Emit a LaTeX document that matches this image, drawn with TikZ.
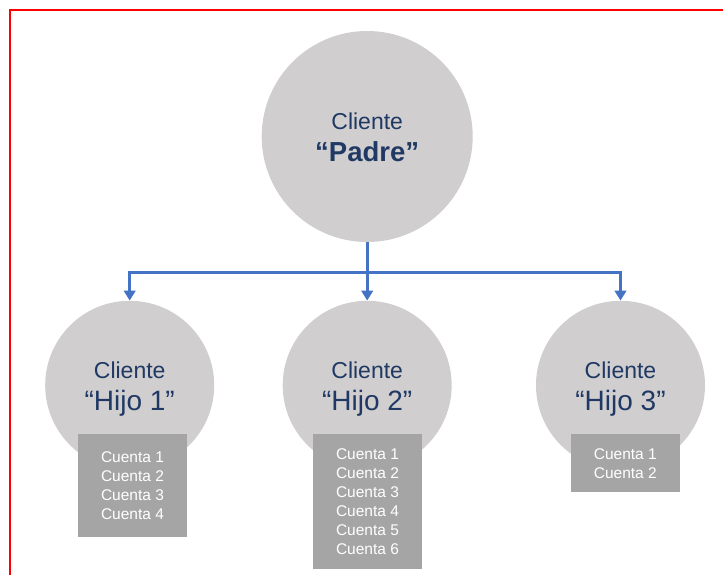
\documentclass[tikz,border=0pt]{standalone}
\usepackage{fontspec}
\setmainfont{Liberation Sans}
\usetikzlibrary{arrows.meta}
\definecolor{circfill}{HTML}{D0CECE}
\definecolor{boxfill}{HTML}{A5A5A5}
\definecolor{navy}{HTML}{1F3864}
\definecolor{connblue}{HTML}{4472C4}
\tikzset{
  parentcirc/.style={circle, fill=circfill, draw=none, minimum size=211pt, inner sep=0pt},
  childcirc/.style={circle, fill=circfill, draw=none, minimum size=169pt, inner sep=0pt},
  cliente/.style={anchor=base, inner sep=0pt, text=navy, font=\fontsize{23}{23}\selectfont},
  padrelbl/.style={anchor=base, inner sep=0pt, text=navy, font=\bfseries\fontsize{27.5}{27.5}\selectfont},
  hijolbl/.style={anchor=base, inner sep=0pt, text=navy, font=\fontsize{28}{28}\selectfont},
  cuentas/.style={rectangle, fill=boxfill, draw=none, inner sep=0pt, text=white, align=center,
    minimum width=109pt, font=\fontsize{15.5}{19}\selectfont},
  conn/.style={draw=connblue, line width=3.2pt, -{Triangle[width=11.5pt,length=10pt]}},
  bus/.style={draw=connblue, line width=3.2pt},
}
\begin{document}
\begin{tikzpicture}[x=1pt,y=-1pt]
\useasboundingbox (0,0) rectangle (723,575);
% frame
\coordinate (fbl) at (10,576);
\coordinate (ftl) at (10,10);
\coordinate (ftr) at (724,10);
\draw[red, line width=2pt] (fbl) -- (ftl) -- (ftr);
% circles
\node[parentcirc] (padre) at (367.2,136.5) {};
\node[childcirc] (hijo1) at (129.7,385.3) {};
\node[childcirc] (hijo2) at (367.2,385.3) {};
\node[childcirc] (hijo3) at (620.5,385.3) {};
% texts
\node[cliente] (tp1) at (367.2,130) {Cliente};
\node[padrelbl] (tp2) at (367.2,161.5) {“Padre”};
\node[cliente] (th1a) at (129.7,378.3) {Cliente};
\node[hijolbl] (th1b) at (129.7,410) {“Hijo 1”};
\node[cliente] (th2a) at (367.2,378.3) {Cliente};
\node[hijolbl] (th2b) at (367.2,410) {“Hijo 2”};
\node[cliente] (th3a) at (620.5,378.3) {Cliente};
\node[hijolbl] (th3b) at (620.5,410) {“Hijo 3”};
% account boxes
\node[cuentas, minimum width=108.4pt, minimum height=102.4pt] (c1) at (132.5,485.5)
  {Cuenta 1\\Cuenta 2\\Cuenta 3\\Cuenta 4};
\node[cuentas, minimum width=109.6pt, minimum height=135pt] (c2) at (367.5,501.8)
  {Cuenta 1\\Cuenta 2\\Cuenta 3\\Cuenta 4\\Cuenta 5\\Cuenta 6};
\node[cuentas, minimum width=109.3pt, minimum height=58pt] (c3) at (625.3,463.3)
  {Cuenta 1\\Cuenta 2};
% connectors
\coordinate (junc) at (367.2,272.7);
\draw[bus] (padre.south) -- (junc);
\draw[conn] (junc) -| (hijo1.north);
\draw[conn] (junc) -- (hijo2.north);
\draw[conn] (junc) -| (hijo3.north);
\end{tikzpicture}
\end{document}
